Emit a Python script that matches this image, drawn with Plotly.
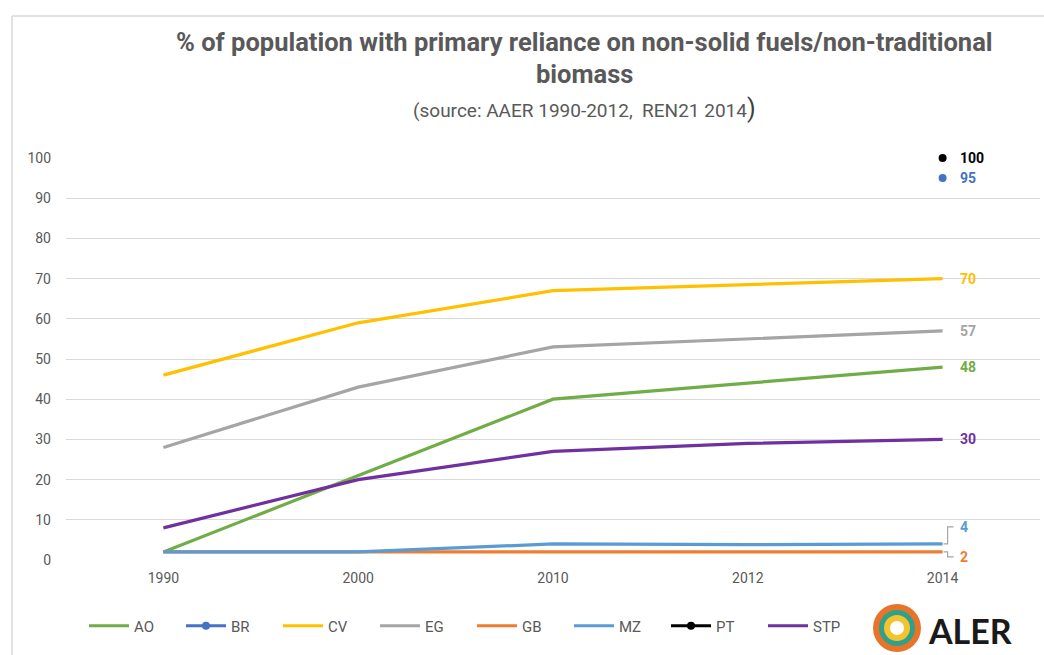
import plotly.graph_objects as go

years = ["1990", "2000", "2010", "2012", "2014"]
AO = [2, 21, 40, 44, 48]
CV = [46, 59, 67, 68.5, 70]
EG = [28, 43, 53, 55, 57]
GB = [2, 2, 2, 2, 2]
MZ = [2, 2, 4, 3.8, 4]
STP = [8, 20, 27, 29, 30]
BR = [None, None, None, None, 95]
PT = [None, None, None, None, 100]

series = [
    ("AO", AO, "#70AD47", False),
    ("BR", BR, "#4472C4", True),
    ("CV", CV, "#FFC000", False),
    ("EG", EG, "#A5A5A5", False),
    ("GB", GB, "#ED7D31", False),
    ("MZ", MZ, "#5B9BD5", False),
    ("PT", PT, "#000000", True),
    ("STP", STP, "#7030A0", False),
]

FONT = "Roboto, Open Sans, sans-serif"
GREY = "#595959"

fig = go.Figure()
for name, vals, col, mk in series:
    fig.add_trace(go.Scatter(
        x=years, y=vals, name=name,
        mode="lines+markers" if mk else "lines",
        line=dict(color=col, width=3.2),
        marker=dict(size=8, color=col),
        cliponaxis=False,
    ))

W, H = 1044, 655
L, R, T, B = 66, 4, 158, 95
pw, ph = W - L - R, H - T - B

def px(x):
    return (x - L) / pw

def py(y):
    return (H - B - y) / ph

# paper x of last category centre (category axis: n equal bands)
x_last = (len(years) - 1 + 0.5) / len(years)

ann = []
labels = [
    ("PT", PT, "#000000", 0),
    ("BR", BR, "#4472C4", 0),
    ("CV", CV, "#FFC000", 0),
    ("EG", EG, "#A5A5A5", 0),
    ("AO", AO, "#70AD47", 0),
    ("STP", STP, "#7030A0", 0),
    ("MZ", MZ, "#5B9BD5", 17),
    ("GB", GB, "#ED7D31", -5),
]
for name, vals, col, ys in labels:
    v = vals[-1]
    ann.append(dict(x=x_last, y=v, xref="paper", yref="y", text="<b>%g</b>" % v,
                    showarrow=False, xanchor="left", yanchor="middle",
                    xshift=15, yshift=ys,
                    font=dict(family=FONT, size=14, color=col)))

ann += [
    dict(x=px(584), y=py(42), xref="paper", yref="paper", showarrow=False,
         text="<b>% of population with primary reliance on non-solid fuels/non-traditional</b>",
         font=dict(family=FONT, size=25.5, color=GREY), xanchor="center", yanchor="middle"),
    dict(x=px(584), y=py(74), xref="paper", yref="paper", showarrow=False,
         text="<b>biomass</b>",
         font=dict(family=FONT, size=25.5, color=GREY), xanchor="center", yanchor="middle"),
    dict(x=px(584), y=py(108), xref="paper", yref="paper", showarrow=False,
         text="(source: AAER 1990-2012,  REN21 2014<span style='font-size:25px;color:#404040'>)</span>",
         font=dict(family=FONT, size=19, color=GREY), xanchor="center", yanchor="middle"),
    dict(x=px(926), y=py(630), xref="paper", yref="paper", showarrow=False,
         text="<b>ALER</b>", font=dict(family="Lato, Roboto, sans-serif", size=34, color="#1a1a1a"),
         xanchor="left", yanchor="middle"),
]

shapes = [
    dict(type="line", xref="paper", yref="paper", x0=px(12), x1=px(1044), y0=py(16), y1=py(16),
         line=dict(color="#d9d9d9", width=1.5)),
    dict(type="line", xref="paper", yref="paper", x0=px(12), x1=px(12), y0=py(16), y1=py(655),
         line=dict(color="#d9d9d9", width=1.5)),
    dict(type="path", xref="paper", yref="y", xsizemode="pixel", ysizemode="pixel",
         xanchor=x_last, yanchor=MZ[-1], path="M 1 0 L 5 0 L 5 17 L 11 17",
         line=dict(color="#A5A5A5", width=1.2)),
    dict(type="path", xref="paper", yref="y", xsizemode="pixel", ysizemode="pixel",
         xanchor=x_last, yanchor=GB[-1], path="M 1 0 L 5 0 L 5 -5 L 11 -5",
         line=dict(color="#A5A5A5", width=1.2)),
    dict(type="circle", xref="paper", yref="paper", xsizemode="pixel", ysizemode="pixel",
         xanchor=px(897), yanchor=py(628), x0=-24, x1=24, y0=-24, y1=24,
         fillcolor="#e8742a", line=dict(width=0)),
    dict(type="circle", xref="paper", yref="paper", xsizemode="pixel", ysizemode="pixel",
         xanchor=px(897), yanchor=py(628), x0=-18, x1=18, y0=-18, y1=18,
         fillcolor="#2fa08a", line=dict(width=0)),
    dict(type="circle", xref="paper", yref="paper", xsizemode="pixel", ysizemode="pixel",
         xanchor=px(897), yanchor=py(628), x0=-13, x1=13, y0=-13, y1=13,
         fillcolor="#f4c430", line=dict(width=0)),
    dict(type="circle", xref="paper", yref="paper", xsizemode="pixel", ysizemode="pixel",
         xanchor=px(897), yanchor=py(628), x0=-7, x1=7, y0=-7, y1=7,
         fillcolor="white", line=dict(width=0)),
]

fig.update_layout(
    width=W, height=H,
    margin=dict(l=L, r=R, t=T, b=B, autoexpand=False),
    paper_bgcolor="white", plot_bgcolor="white",
    font=dict(family=FONT, color=GREY, size=12),
    showlegend=True,
    legend=dict(orientation="h", x=px(84), y=py(626), xanchor="left", yanchor="middle",
                entrywidth=42, entrywidthmode="pixels",
                font=dict(family=FONT, size=15, color=GREY), itemwidth=40),
    annotations=ann,
    shapes=shapes,
)
fig.update_xaxes(type="category", range=[-0.5, len(years) - 0.5],
                 showgrid=False, showline=False, zeroline=False,
                 ticks="", tickfont=dict(size=14, color=GREY), ticklabelstandoff=8)
fig.update_yaxes(range=[0, 100], dtick=10, showgrid=True, gridcolor="#d9d9d9", gridwidth=1,
                 zeroline=False, showline=False, ticks="",
                 tickfont=dict(size=14, color=GREY), ticklabelstandoff=14)

fig.write_html("out.html", config={"displayModeBar": False},
               post_script="document.body.style.margin='0';")
